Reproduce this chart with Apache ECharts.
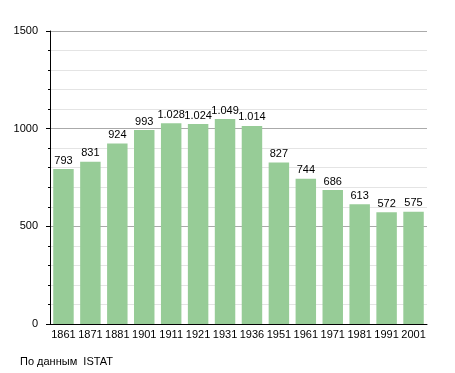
<!DOCTYPE html>
<html><head><meta charset="utf-8">
<script src="https://cdn.jsdelivr.net/npm/echarts@6/dist/echarts.min.js"></script>
<style>html,body{margin:0;padding:0;background:#fff}#c{width:455px;height:373px}</style>
</head><body><div id="c"></div>
<script>
const years = ['1861','1871','1881','1901','1911','1921','1931','1936','1951','1961','1971','1981','1991','2001'];
const population = [793,831,924,993,1028,1024,1049,1014,827,744,686,613,572,575];
const yTicks = [0,500,1000,1500];
const sourceText = 'По данным  ISTAT';

function fmt(v){ return v >= 1000 ? Math.floor(v/1000) + '.' + String(v%1000).padStart(3,'0') : String(v); }

const chart = echarts.init(document.getElementById('c'));
chart.setOption({
  animation: false,
  textStyle: { fontFamily: 'Liberation Sans, Arial, sans-serif' },
  grid: { left: 50, right: 28, top: 31, bottom: 49 },
  graphic: [{ type: 'text', left: 20, top: 356, style: { text: sourceText, fontSize: 11, fill: '#000', fontFamily: 'Liberation Sans, Arial, sans-serif' } }],
  xAxis: {
    type: 'category', data: years,
    axisLine: { lineStyle: { color: '#000', width: 1 } },
    axisTick: { show: false },
    axisLabel: { color: '#000', fontSize: 11, margin: 5, interval: 0 }
  },
  yAxis: {
    type: 'value', min: yTicks[0], max: yTicks[yTicks.length-1], interval: 500,
    axisLine: { show: true, lineStyle: { color: '#000', width: 1 } },
    axisTick: { show: true, length: 4, lineStyle: { color: '#000' } },
    minorTick: { show: true, splitNumber: 5, length: 2, lineStyle: { color: '#000' } },
    splitLine: { show: true, lineStyle: { color: '#aaa', width: 1 } },
    minorSplitLine: { show: true, lineStyle: { color: '#e4e4e4', width: 1 } },
    axisLabel: { color: '#000', fontSize: 11, margin: 12, formatter: v => String(v) }
  },
  series: [{
    type: 'bar', data: population, barWidth: '76%',
    itemStyle: { color: '#97cc97' },
    label: { show: true, position: 'top', color: '#000', fontSize: 11, distance: 3, formatter: p => fmt(p.value) }
  }]
});
</script></body></html>
